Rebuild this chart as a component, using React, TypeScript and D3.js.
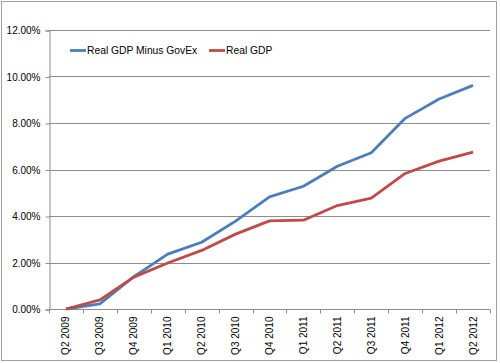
import React, { useRef, useEffect } from "react"
import * as d3 from "d3"

const quarters = ["Q2 2009", "Q3 2009", "Q4 2009", "Q1 2010", "Q2 2010", "Q3 2010", "Q4 2010",
    "Q1 2011", "Q2 2011", "Q3 2011", "Q4 2011", "Q1 2012", "Q2 2012"]
const minusGovEx = [0, 0.22, 1.39, 2.36, 2.87, 3.78, 4.82, 5.28, 6.14, 6.72, 8.2, 9.03, 9.62]
const realGdp = [0, 0.39, 1.37, 1.98, 2.52, 3.22, 3.79, 3.82, 4.45, 4.77, 5.83, 6.36, 6.75]
const yTicks = [0, 2, 4, 6, 8, 10, 12]
const seriesNames = ["Real GDP Minus GovEx", "Real GDP"]
const seriesColors = ["#4a7ebb", "#be4b48"]

export default function App() {
    const svgRef = useRef<SVGSVGElement>(null)

    useEffect(() => {
        const width = 500
        const height = 363
        const left = 49, right = 490, top = 30, bottom = 309
        const font = "Liberation Sans, Arial, sans-serif"

        const svg = d3.select(svgRef.current)
        svg.selectAll("*").remove()
        svg.attr("width", width).attr("height", height)

        // outer frame
        svg.append("rect")
            .attr("x", 1.5).attr("y", 1.5)
            .attr("width", 495).attr("height", 359)
            .attr("fill", "white")
            .attr("stroke", "#a0a0a0")

        const x = d3.scaleBand().domain(quarters).range([left, right])
        const y = d3.scaleLinear().domain([0, 12]).range([bottom, top])

        // gridlines
        svg.append("g")
            .selectAll("line")
            .data(yTicks.slice(1))
            .join("line")
            .attr("x1", left).attr("x2", right)
            .attr("y1", d => Math.round(y(d)) + 0.5)
            .attr("y2", d => Math.round(y(d)) + 0.5)
            .attr("stroke", "#8c8c8c")

        // y axis
        const yAxis = d3.axisLeft(y)
            .tickValues(yTicks)
            .tickSize(4)
            .tickPadding(5)
            .tickFormat(d => (d as number).toFixed(2) + "%")
        const yg = svg.append("g")
            .attr("transform", `translate(${left + 0.5},0.5)`)
            .call(yAxis)
        yg.select(".domain").attr("stroke", "#8c8c8c")
        yg.selectAll(".tick line").attr("stroke", "#8c8c8c")
        yg.selectAll(".tick text")
            .attr("font-family", font).attr("font-size", 10).attr("fill", "#000")

        // x axis
        const xg = svg.append("g")
            .attr("transform", `translate(0,${bottom + 0.5})`)
        xg.append("line")
            .attr("x1", left).attr("x2", right)
            .attr("stroke", "#8c8c8c")
        xg.selectAll("line.tk")
            .data(d3.range(quarters.length + 1))
            .join("line")
            .attr("class", "tk")
            .attr("x1", i => Math.round(left + i * x.step()) + 0.5)
            .attr("x2", i => Math.round(left + i * x.step()) + 0.5)
            .attr("y1", 0).attr("y2", 4)
            .attr("stroke", "#8c8c8c")
        xg.selectAll("text")
            .data(quarters)
            .join("text")
            .attr("transform", d => `translate(${x(d)! + x.bandwidth() / 2 + 3.5},7) rotate(-90)`)
            .attr("text-anchor", "end")
            .attr("font-family", font)
            .attr("font-size", 10)
            .text(d => d)

        // lines
        const line = d3.line<number>()
            .x((_, i) => x(quarters[i])! + x.bandwidth() / 2)
            .y(d => y(d))
        ;[minusGovEx, realGdp].forEach((vals, i) => {
            svg.append("path")
                .datum(vals)
                .attr("d", line)
                .attr("fill", "none")
                .attr("stroke", seriesColors[i])
                .attr("stroke-width", 2.8)
                .attr("stroke-linejoin", "round")
        })

        // legend
        const legendX = [70, 209]
        seriesNames.forEach((name, i) => {
            const g = svg.append("g").attr("transform", `translate(${legendX[i]},50.5)`)
            g.append("line")
                .attr("x1", 0).attr("x2", 16)
                .attr("stroke", seriesColors[i]).attr("stroke-width", 2.8)
            g.append("text")
                .attr("x", 17).attr("y", 3.5)
                .attr("font-family", font).attr("font-size", 10.3)
                .text(name)
        })
    }, [])

    return <svg ref={svgRef} style={{ position: "absolute", left: 0, top: 0 }}></svg>
}
